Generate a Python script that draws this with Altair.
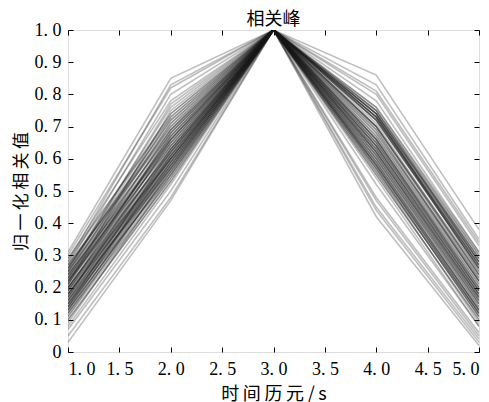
import altair as alt
import pandas as pd

x_epochs = [1.0, 2.0, 3.0, 4.0, 5.0]
peak = 1.0

v1 = [0.31,0.30,0.29,0.28,0.27,0.26,0.26,0.25,0.25,0.24,
      0.24,0.23,0.23,0.22,0.22,0.21,0.21,0.20,0.20,0.19,
      0.19,0.18,0.18,0.17,0.17,0.16,0.16,0.15,0.15,0.14,
      0.14,0.13,0.13,0.12,0.12,0.11,0.10,0.09,0.08,0.05,
      0.27,0.22,0.18,0.25,0.13,0.29,0.20,0.16,0.23,0.11,
      0.26,0.19,0.14,0.24,0.21,0.28,0.17,0.12,0.22,0.15,
      0.20,0.25,0.18,0.10,0.23,0.27,0.16,0.21,0.13,0.19,
      0.24,0.07,0.17,0.26,0.14,0.22,0.03,0.20,0.15,0.18]

v2 = [0.85,0.82,0.78,0.74,0.80,0.72,0.76,0.70,0.68,0.73,
      0.66,0.71,0.64,0.69,0.62,0.67,0.75,0.65,0.60,0.63,
      0.68,0.61,0.58,0.66,0.64,0.57,0.62,0.60,0.55,0.63,
      0.59,0.56,0.61,0.54,0.58,0.57,0.53,0.55,0.52,0.48,
      0.70,0.66,0.59,0.77,0.56,0.73,0.62,0.61,0.69,0.54,
      0.72,0.60,0.58,0.65,0.67,0.83,0.57,0.55,0.64,0.59,
      0.63,0.71,0.62,0.53,0.67,0.69,0.58,0.65,0.56,0.61,
      0.68,0.50,0.60,0.74,0.57,0.66,0.47,0.63,0.59,0.60]

v4 = [0.86,0.83,0.76,0.74,0.80,0.73,0.75,0.72,0.70,0.74,
      0.68,0.73,0.66,0.72,0.64,0.70,0.78,0.67,0.62,0.65,
      0.74,0.63,0.60,0.69,0.66,0.58,0.64,0.61,0.56,0.65,
      0.60,0.57,0.62,0.55,0.59,0.58,0.52,0.48,0.45,0.42,
      0.75,0.73,0.61,0.74,0.57,0.76,0.66,0.63,0.72,0.55,
      0.74,0.62,0.59,0.68,0.71,0.81,0.58,0.56,0.67,0.60,
      0.65,0.73,0.64,0.54,0.70,0.72,0.59,0.69,0.57,0.63,
      0.73,0.47,0.61,0.75,0.58,0.70,0.44,0.66,0.62,0.64]

v5 = [0.38,0.35,0.31,0.29,0.33,0.28,0.30,0.27,0.25,0.28,
      0.23,0.27,0.21,0.26,0.19,0.24,0.31,0.22,0.17,0.20,
      0.25,0.18,0.15,0.22,0.19,0.13,0.18,0.16,0.12,0.19,
      0.14,0.11,0.16,0.10,0.13,0.12,0.08,0.06,0.04,0.02,
      0.28,0.26,0.15,0.29,0.11,0.30,0.20,0.17,0.26,0.10,
      0.28,0.17,0.13,0.22,0.24,0.34,0.12,0.09,0.21,0.14,
      0.19,0.27,0.18,0.08,0.23,0.26,0.13,0.22,0.11,0.17,
      0.27,0.05,0.15,0.29,0.12,0.24,0.03,0.20,0.16,0.18]

x_ticks = [1.0, 1.5, 2.0, 2.5, 3.0, 3.5, 4.0, 4.5, 5.0]
y_ticks = [0.0, 0.1, 0.2, 0.3, 0.4, 0.5, 0.6, 0.7, 0.8, 0.9, 1.0]

rows = []
for i in range(len(v1)):
    vals = [v1[i], v2[i], peak, v4[i], v5[i]]
    for xe, v in zip(x_epochs, vals):
        rows.append({"line": i, "t": xe, "r": v})
df = pd.DataFrame(rows)

W, H = 411, 322
num_font = "Liberation Serif"
cjk_font = "Noto Sans CJK SC"
ts = "\u2009"

chart = alt.Chart(df).mark_line(
    stroke="#1a1a1a", strokeOpacity=0.28, strokeWidth=1.6, clip=True
).encode(
    x=alt.X("t:Q", scale=alt.Scale(domain=[1, 5], nice=False),
            axis=alt.Axis(values=x_ticks, title=ts.join("时间历元/s"),
                          labelExpr="replace(format(datum.value, '.1f'), '.', '. ')",
                          grid=True, gridDash=[5, H - 10, 5], gridColor="black",
                          gridOpacity=1, gridWidth=1,
                          ticks=False, domain=False, labelPadding=8,
                          labelFont=num_font, labelFontSize=18, labelColor="black",
                          titleFont=cjk_font, titleFontSize=18, titleFontWeight="normal",
                          titleColor="black", titlePadding=7)),
    y=alt.Y("r:Q", scale=alt.Scale(domain=[0, 1], nice=False),
            axis=alt.Axis(values=y_ticks, title=ts.join("归一化相关值"),
                          labelExpr="datum.value == 0 ? '0' : replace(format(datum.value, '.1f'), '.', '. ')",
                          grid=True, gridDash=[5, W - 10, 5], gridColor="black",
                          gridOpacity=1, gridWidth=1,
                          ticks=False, domain=False, labelPadding=7,
                          labelFont=num_font, labelFontSize=18, labelColor="black",
                          titleFont=cjk_font, titleFontSize=17, titleFontWeight="normal",
                          titleColor="black", titlePadding=4)),
    detail="line:N",
).properties(
    width=W, height=H,
    title=alt.TitleParams("相关峰", font=cjk_font, fontSize=18, fontWeight="normal",
                          color="black", offset=-8),
    autosize=alt.AutoSizeParams(type="none"),
    padding={"left": 60, "top": 22, "right": 2, "bottom": 58},
).configure_view(
    stroke="black", strokeWidth=1.5
).configure(background="white")

chart.save("out.html", embed_options={"renderer": "svg", "actions": False})
